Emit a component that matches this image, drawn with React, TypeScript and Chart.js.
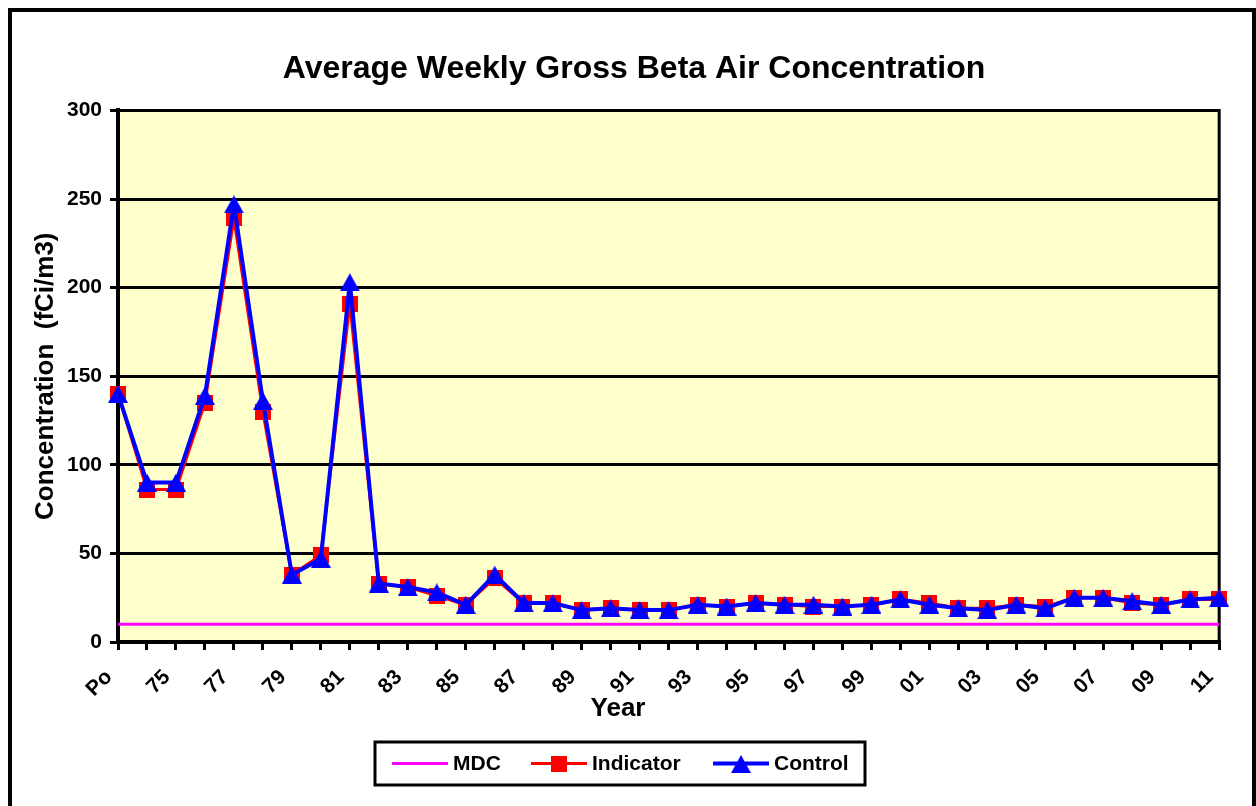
import React, { useEffect, useRef } from "react";
import { Chart, registerables } from "chart.js";

Chart.register(...registerables);

const FONT = "'Liberation Sans', Arial, Helvetica, sans-serif";

const chartTitle = "Average Weekly Gross Beta Air Concentration";
const xTitle = "Year";
const yTitle = "Concentration  (fCi/m3)";

const categories = [
  "Po", "74", "75", "76", "77", "78", "79", "80", "81", "82",
  "83", "84", "85", "86", "87", "88", "89", "90", "91", "92",
  "93", "94", "95", "96", "97", "98", "99", "00", "01", "02",
  "03", "04", "05", "06", "07", "08", "09", "10", "11",
];

const indicator = [
  140, 86, 86, 135, 239, 130, 38, 49, 191, 33,
  31, 26, 21, 36, 22, 22, 18, 19, 18, 18,
  21, 20, 22, 21, 20, 20, 21, 24, 22, 19,
  19, 21, 20, 25, 25, 22, 21, 24, 24,
];

const control = [
  140, 90, 90, 139, 247, 136, 38, 47, 203, 33,
  31, 28, 21, 38, 22, 22, 18, 19, 18, 18,
  21, 20, 22, 21, 21, 20, 21, 24, 21, 19,
  18, 21, 19, 25, 25, 23, 21, 24, 25,
];

const mdc = [
  10, 10, 10, 10, 10, 10, 10, 10, 10, 10,
  10, 10, 10, 10, 10, 10, 10, 10, 10, 10,
  10, 10, 10, 10, 10, 10, 10, 10, 10, 10,
  10, 10, 10, 10, 10, 10, 10, 10, 10,
];

const yTicks = [0, 50, 100, 150, 200, 250, 300];

const MDC_COLOR = "#FF00FF";
const IND_COLOR = "#FF0000";
const CTL_COLOR = "#0000FF";

function makeSquare(color: string, s: number) {
  const c = document.createElement("canvas");
  c.width = s;
  c.height = s;
  const g = c.getContext("2d")!;
  g.fillStyle = color;
  g.fillRect(0, 0, s, s);
  return c;
}

function makeTriangle(color: string, w: number, h: number) {
  const c = document.createElement("canvas");
  c.width = w;
  c.height = h;
  const g = c.getContext("2d")!;
  g.fillStyle = color;
  g.beginPath();
  g.moveTo(w / 2, 0);
  g.lineTo(w, h);
  g.lineTo(0, h);
  g.closePath();
  g.fill();
  return c;
}

const plotDecor = {
  id: "plotDecor",
  beforeDraw(chart: any) {
    const { ctx, chartArea: a } = chart;
    ctx.save();
    ctx.fillStyle = "#FFFFCC";
    ctx.fillRect(a.left, a.top, a.right - a.left, a.bottom - a.top);
    ctx.restore();
  },
  beforeDatasetsDraw(chart: any) {
    const { ctx, chartArea: a } = chart;
    ctx.save();
    ctx.strokeStyle = "#000";
    ctx.lineWidth = 3;
    ctx.beginPath();
    ctx.moveTo(a.left, a.top);
    ctx.lineTo(a.right, a.top);
    ctx.lineTo(a.right, a.bottom);
    ctx.stroke();
    ctx.restore();
  },
  afterDraw(chart: any) {
    const ctx = chart.ctx;
    ctx.save();
    ctx.font = `bold 26px ${FONT}`;
    ctx.fillStyle = "#000";
    ctx.textAlign = "center";
    ctx.textBaseline = "middle";
    ctx.fillText(xTitle, 606, 697);
    ctx.restore();
  },
};

const boxLegend = {
  id: "boxLegend",
  afterDraw(chart: any) {
    const ctx = chart.ctx;
    const x0 = 363;
    const y0 = 730;
    const w = 490;
    const h = 43;
    const cy = y0 + h / 2;
    ctx.save();
    ctx.lineWidth = 3;
    ctx.strokeStyle = "#000";
    ctx.strokeRect(x0, y0, w, h);
    const items = [
      { ds: 2, lx: 380, tx: 441 },
      { ds: 1, lx: 519, tx: 580 },
      { ds: 0, lx: 701, tx: 762 },
    ];
    ctx.font = `bold 21px ${FONT}`;
    ctx.textBaseline = "middle";
    ctx.textAlign = "left";
    for (const it of items) {
      const d = chart.data.datasets[it.ds];
      ctx.strokeStyle = d.borderColor;
      ctx.lineWidth = d.borderWidth;
      ctx.beginPath();
      ctx.moveTo(it.lx, cy);
      ctx.lineTo(it.lx + 56, cy);
      ctx.stroke();
      const mx = it.lx + 28;
      const img = d.pointStyle;
      if (img && typeof img !== "string") {
        ctx.drawImage(img, Math.round(mx - img.width / 2), Math.round(cy - img.height / 2));
      }
      ctx.fillStyle = "#000";
      ctx.fillText(d.label, it.tx, cy + 1);
    }
    ctx.restore();
  },
};

export default function App() {
  const ref = useRef<HTMLCanvasElement | null>(null);

  useEffect(() => {
    if (!ref.current) return;
    Chart.defaults.font.family = FONT;
    Chart.defaults.color = "#000";
    const tri = makeTriangle(CTL_COLOR, 20, 18);
    const sq = makeSquare(IND_COLOR, 16);
    const chart = new Chart(ref.current, {
      type: "line",
      data: {
        labels: categories,
        datasets: [
          {
            label: "Control",
            data: control,
            borderColor: CTL_COLOR,
            backgroundColor: CTL_COLOR,
            borderWidth: 4,
            borderJoinStyle: "round",
            pointStyle: tri,
            pointRadius: 9,
            tension: 0,
            clip: false,
            order: 0,
          } as any,
          {
            label: "Indicator",
            data: indicator,
            borderColor: IND_COLOR,
            backgroundColor: IND_COLOR,
            borderWidth: 3,
            borderJoinStyle: "round",
            pointStyle: sq,
            pointRadius: 8,
            tension: 0,
            clip: false,
            order: 1,
          } as any,
          {
            label: "MDC",
            data: mdc,
            borderColor: MDC_COLOR,
            backgroundColor: MDC_COLOR,
            borderWidth: 3,
            pointRadius: 0,
            tension: 0,
            clip: false,
            order: 2,
          } as any,
        ],
      },
      options: {
        animation: false,
        responsive: false,
        maintainAspectRatio: false,
        devicePixelRatio: 1,
        layout: { padding: { left: 4, right: 0, top: 0, bottom: 0 } },
        plugins: {
          legend: { display: false },
          tooltip: { enabled: false },
          title: {
            display: true,
            text: chartTitle,
            color: "#000",
            font: { family: FONT, size: 32, weight: "bold" },
            padding: { top: 38, bottom: 22 },
          },
        },
        scales: {
          x: {
            offset: false,
            afterFit(scale: any) {
              scale.height = 164;
            },
            grid: {
              display: true,
              drawOnChartArea: false,
              drawTicks: true,
              tickLength: 8,
              color: "#000",
              lineWidth: 3,
            },
            border: { display: true, color: "#000", width: 4 },
            ticks: {
              autoSkip: false,
              maxRotation: 45,
              minRotation: 45,
              padding: 15,
              labelOffset: -9,
              color: "#000",
              font: { family: FONT, size: 21, weight: "bold" },
              callback: (_v: any, i: number) => (i % 2 === 0 ? categories[i] : ""),
            },
            title: { display: false, text: xTitle },
          },
          y: {
            min: yTicks[0],
            max: yTicks[yTicks.length - 1],
            afterFit(scale: any) {
              scale.width = 102;
            },
            afterBuildTicks(scale: any) {
              scale.ticks = yTicks.map((v) => ({ value: v }));
            },
            grid: {
              display: true,
              drawOnChartArea: true,
              drawTicks: true,
              tickLength: 8,
              color: "#000",
              lineWidth: 3,
            },
            border: { display: true, color: "#000", width: 4 },
            ticks: {
              padding: 8,
              color: "#000",
              font: { family: FONT, size: 21, weight: "bold" },
            },
            title: {
              display: true,
              text: yTitle,
              color: "#000",
              font: { family: FONT, size: 26, weight: "bold" },
              padding: { top: 14, bottom: 0 },
            },
          },
          yRight: {
            position: "right",
            display: true,
            min: yTicks[0],
            max: yTicks[yTicks.length - 1],
            afterFit(scale: any) {
              scale.width = 31;
            },
            grid: { display: false, drawTicks: false },
            border: { display: false },
            ticks: { display: false },
          },
        },
      } as any,
      plugins: [plotDecor, boxLegend],
    });
    return () => chart.destroy();
  }, []);

  return (
    <div
      style={{
        position: "fixed",
        left: 8,
        top: 8,
        width: 1248,
        height: 820,
        border: "4px solid #000",
        boxSizing: "border-box",
        background: "#fff",
        overflow: "hidden",
      }}
    >
      <canvas
        ref={ref}
        width={1240}
        height={794}
        style={{ position: "absolute", left: 0, top: 0, width: 1240, height: 794 }}
      />
    </div>
  );
}
